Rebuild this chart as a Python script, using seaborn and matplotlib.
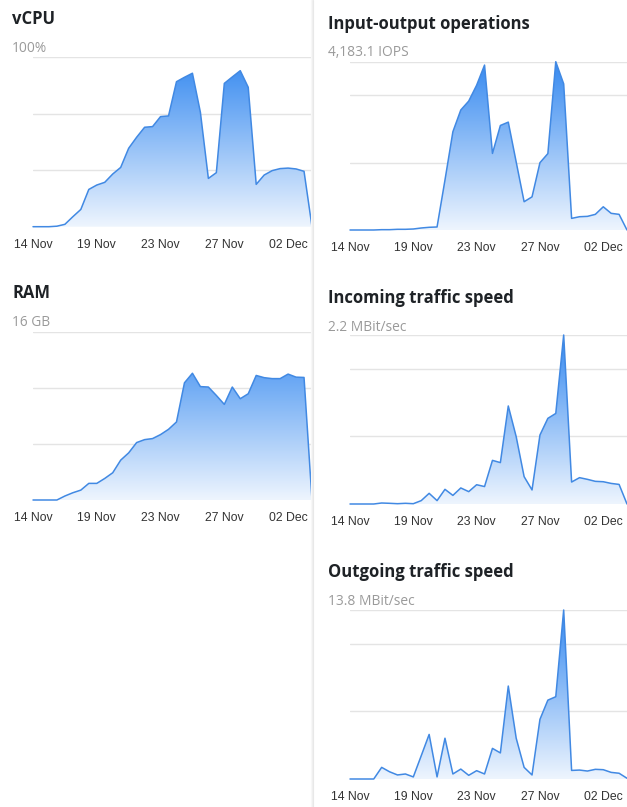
import numpy as np
import seaborn as sns
import matplotlib.pyplot as plt
from matplotlib.colors import LinearSegmentedColormap
from matplotlib.patches import Polygon

# tick labels along the bottom of every chart
day_labels = ["14 Nov", "19 Nov", "23 Nov", "27 Nov", "02 Dec"]
day_ticks = [0, 8, 16, 24, 32]

vcpu_pct = [0, 0, 0, 0.3, 1.4, 5.9, 10.2, 22.0, 24.6, 26.2, 31.1, 35.0,
            46.3, 52.8, 58.7, 59.1, 65.0, 65.4, 85.6, 88.2, 90.6, 67.5, 28.5, 31.9,
            84.6, 88.4, 92.1, 82.3, 25.0, 30.5, 33.1, 34.3, 34.6, 34.1, 32.7, 0]
ram_gb = [0, 0, 0, 0, 0.38, 0.69, 0.94, 1.58, 1.58, 2.05, 2.59, 3.79,
          4.48, 5.46, 5.74, 5.84, 6.22, 6.72, 7.42, 11.14, 12.05, 10.78, 10.74, 9.94,
          9.09, 10.74, 9.63, 10.10, 11.84, 11.63, 11.54, 11.54, 11.97, 11.68, 11.65, 0]
iops = [0, 0, 0, 0, 8, 8, 17, 17, 25, 50, 67, 75,
        1242, 2443, 2983, 3204, 3598, 4099, 1903, 2598, 2681, 1690, 703, 824,
        1673, 1899, 4183.1, 3631, 289, 330, 339, 389, 577, 414, 389, 0]
incoming_mbit = [0, 0, 0, 0, 0.013, 0.009, 0.004, 0.009, 0.004, 0.044, 0.139, 0.044,
                 0.191, 0.112, 0.209, 0.161, 0.251, 0.227, 0.568, 0.539, 1.276, 0.876, 0.356, 0.183,
                 0.898, 1.115, 1.179, 2.2, 0.286, 0.343, 0.321, 0.295, 0.290, 0.268, 0.255, 0]
outgoing_mbit = [0, 0, 0, 0, 0.95, 0.59, 0.33, 0.41, 0.17, 1.90, 3.64, 0.17,
                 3.33, 0.41, 0.81, 0.30, 0.68, 0.41, 2.50, 2.13, 7.59, 3.33, 0.95, 0.33,
                 4.87, 6.44, 6.72, 13.8, 0.70, 0.73, 0.65, 0.79, 0.76, 0.54, 0.47, 0.06]

sns.set_theme(style="white")
plt.rcParams["font.family"] = ["Liberation Sans", "DejaVu Sans"]

W, H = 627, 807
fig = plt.figure(figsize=(W / 100, H / 100), dpi=100)
fig.patch.set_facecolor("white")

blue = LinearSegmentedColormap.from_list("fade", ["#eef5fe", "#3589f0"])
line_col = "#4189e3"

# title, subtitle, values, top value, grid fractions, axes l/r/t/b px, text x, title y, subtitle y
panels = [
    ("vCPU", "100%", vcpu_pct, 100, (1 / 3, 2 / 3, 1), 33, 312, 57.3, 226.7, 12, 24, 52),
    ("RAM", "16 GB", ram_gb, 16, (1 / 3, 2 / 3, 1), 33, 312, 331.7, 500, 12, 298.3, 326.5),
    ("Input-output operations", "4,183.1 IOPS", iops, 4183.1, (0.4, 0.8, 1), 350, 627, 61.7, 230, 328, 29.3, 56),
    ("Incoming traffic speed", "2.2 MBit/sec", incoming_mbit, 2.2, (0.4, 0.8, 1), 350, 627, 335, 504, 328, 303.3, 331),
    ("Outgoing traffic speed", "13.8 MBit/sec", outgoing_mbit, 13.8, (0.4, 0.8, 1), 350, 627, 610, 779, 328, 577.3, 605),
]

for title, sub, vals, top, grid, l, r, t, b, tx, ty, sy in panels:
    ax = fig.add_axes([l / W, 1 - b / H, (r - l) / W, (b - t) / H])
    x = np.arange(len(vals))
    y = np.array(vals, dtype=float)

    # gradient fill clipped to the area under the curve
    verts = np.column_stack([np.r_[x, x[::-1]], np.r_[y, np.zeros_like(y)]])
    patch = Polygon(verts, closed=True, facecolor="none", edgecolor="none")
    ax.add_patch(patch)
    grad = np.linspace(0, 1, 256).reshape(-1, 1)
    im = ax.imshow(grad, extent=[0, len(vals) - 1, 0, top], origin="lower",
                   aspect="auto", cmap=blue, zorder=1)
    im.set_clip_path(patch)

    sns.lineplot(x=x, y=y, ax=ax, color=line_col, linewidth=1.1, clip_on=False, zorder=3)

    ax.set_xlim(0, len(vals) - 1)
    ax.set_ylim(0, top)
    ax.set_yticks([top * g for g in grid])
    ax.set_yticklabels([])
    ax.grid(axis="y", color="#e4e4e4", linewidth=1)
    ax.set_axisbelow(True)
    ax.set_xticks(day_ticks)
    ax.set_xticklabels(day_labels)
    ax.tick_params(axis="x", length=0, pad=8.5, labelsize=8.8, labelcolor="#333333")
    ax.tick_params(axis="y", length=0)
    for s in ax.spines.values():
        s.set_visible(False)
    ax.set_facecolor("none")

    fig.text(tx / W, 1 - ty / H, title, fontsize=12, fontweight="bold", color="#1e2226",
             family=["Open Sans", "DejaVu Sans"], va="baseline", ha="left")
    fig.text(tx / W, 1 - sy / H, sub, fontsize=9.9, color="#9a9a9a",
             family=["Open Sans", "DejaVu Sans"], va="baseline", ha="left")

# soft shadow on the left edge of the right card
for off, c in [(-1.5, "#f8f8f8"), (-0.5, "#f0f0f0"), (0.5, "#e8e8e8")]:
    fig.add_artist(plt.Line2D([(312.5 + off) / W] * 2, [0, 1], color=c, linewidth=0.8,
                              transform=fig.transFigure))

fig.savefig("out.png", dpi=100)
